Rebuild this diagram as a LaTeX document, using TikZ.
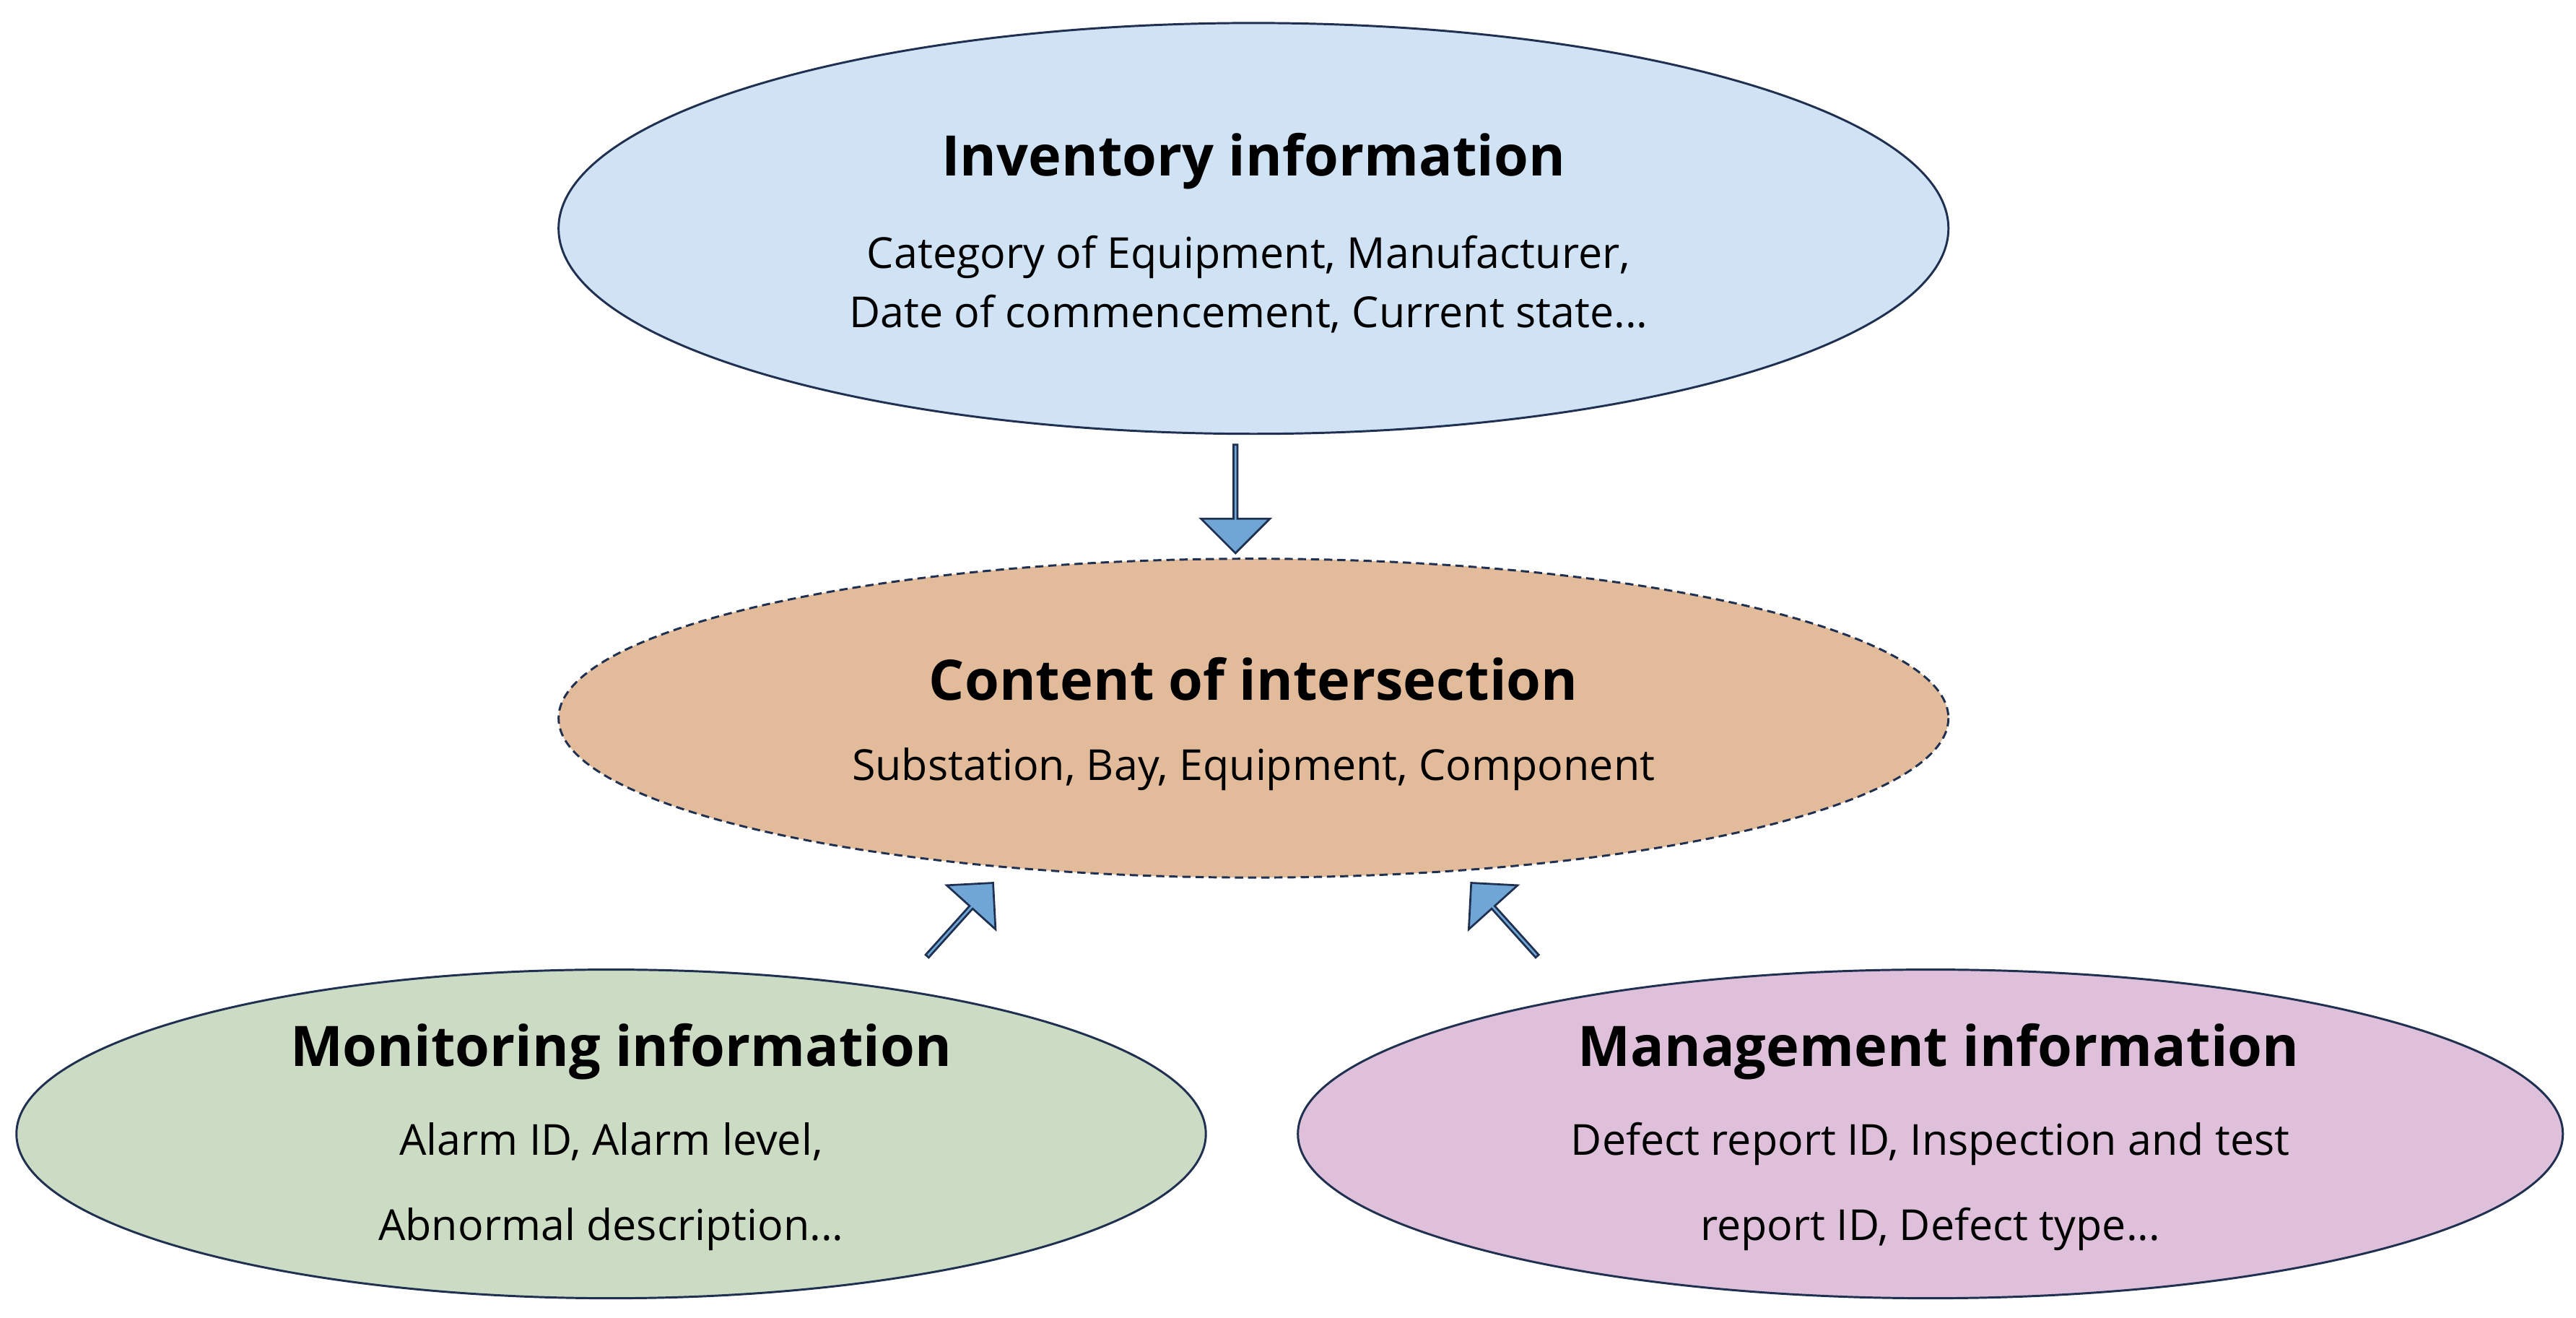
\documentclass[tikz,border=0pt]{standalone}
\usepackage{fontspec}
\setmainfont{Open Sans}
\usetikzlibrary{shapes.arrows}
\definecolor{edge}{HTML}{1F3050}
\definecolor{cblue}{HTML}{CFE3F5}
\definecolor{corange}{HTML}{E2BB9B}
\definecolor{cgreen}{HTML}{CCDCC4}
\definecolor{cpink}{HTML}{DFC0DA}
\definecolor{carrow}{HTML}{6FA6D5}
\begin{document}
\begin{tikzpicture}[x=1pt,y=-1pt,
  ell/.style={draw=edge,line width=1.3pt},
  ttl/.style={font=\fontsize{34}{40}\selectfont\bfseries},
  bod/.style={font=\fontsize{26}{36}\selectfont,align=center},
  barrow/.style={single arrow,draw=edge,fill=carrow,line width=1.2pt,minimum width=40pt,minimum height=60pt,single arrow head extend=9pt,single arrow head indent=0pt,inner sep=0pt}]
\useasboundingbox (0,0) rectangle (1568,802);
\draw[ell,fill=cblue] (763,139) ellipse [x radius=423,y radius=125];
\draw[ell,fill=corange,dashed,dash pattern=on 5pt off 3pt] (763,437) ellipse [x radius=423,y radius=97];
\draw[ell,fill=cgreen] (372,690) ellipse [x radius=362,y radius=100];
\draw[ell,fill=cpink] (1175,690) ellipse [x radius=385,y radius=100];
\node[ttl] (t1) at (763,98) {Inventory information};
\node[bod] (b1) at (760,173) {Category of Equipment, Manufacturer,\\Date of commencement, Current state...};
\node[ttl] (t2) at (763,413) {Content of intersection};
\node[bod] (b2) at (763,468) {Substation, Bay, Equipment, Component};
\node[ttl] (t3) at (378,640) {Monitoring information};
\node[bod,font=\fontsize{26}{52}\selectfont] (b3) at (372,722) {Alarm ID, Alarm level,\\Abnormal description...};
\node[ttl] (t4) at (1180,640) {Management information};
\node[bod,font=\fontsize{26}{52}\selectfont] (b4) at (1175,722) {Defect report ID, Inspection and test\\report ID, Defect type...};
\node[barrow,rotate=-90,minimum height=66pt,minimum width=42pt,single arrow head extend=10pt] (a1) at (752,303) {};
\node[barrow,rotate=48] (a2) at (584,560) {};
\node[barrow,rotate=132] (a3) at (916,560) {};
\end{tikzpicture}
\end{document}
